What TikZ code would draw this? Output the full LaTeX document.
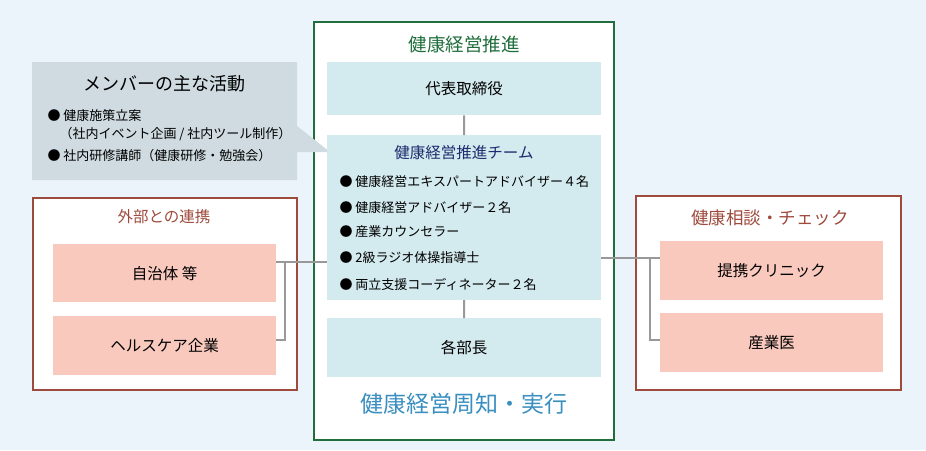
\documentclass[tikz,border=0pt]{standalone}
\usepackage{fontspec}
\setmainfont{Noto Sans CJK JP}
\begin{document}
\begin{tikzpicture}[x=1pt,y=-1pt,
  lbl/.style={font=\fontsize{15.5}{17}\selectfont},
  sbox/.style={fill=teamc,draw=none,minimum width=274pt,anchor=north west},
  pbox/.style={fill=pinkc,draw=none,minimum width=223pt,anchor=north west,font=\fontsize{15.5}{17}\selectfont},
  con/.style={draw=linec,line width=2pt},
  item/.style={anchor=west,font=\fontsize{13}{15}\selectfont}]
\definecolor{bgc}{HTML}{EAF4FA}
\definecolor{teamc}{HTML}{D3EAEE}
\definecolor{pinkc}{HTML}{F9C9BE}
\definecolor{greenc}{HTML}{1F6E3C}
\definecolor{brownc}{HTML}{9E4A3C}
\definecolor{linec}{HTML}{999999}
\definecolor{callc}{HTML}{CFDBE0}
\definecolor{navyc}{HTML}{1E2A6E}
\definecolor{bluec}{HTML}{3A8FC0}
\fill[bgc] (0,0) rectangle (926,450);
\useasboundingbox (0,0) rectangle (926,450);
% center
\draw[greenc,line width=1.5pt,fill=white] (314,22) rectangle (614,440);
% callout
\fill[callc] (32,62) -- (297,62) -- (297,126) -- (330,152) -- (297,152) -- (297,180) -- (32,180) -- cycle;
\node[font=\fontsize{18}{20}\selectfont] (ct) at (164,84) {メンバーの主な活動};
\node[item] (c1) at (44,116) {● 健康施策立案};
\node[item] (c2) at (56,134) {（社内イベント企画 / 社内ツール制作）};
\node[item] (c3) at (44,156) {● 社内研修講師（健康研修・勉強会）};
\node[text=greenc,font=\fontsize{18.5}{20}\selectfont] (ct2) at (464,44) {健康経営推進};
\node[sbox,minimum height=53pt,lbl] (ceo) at (327,62) {代表取締役};
\fill[teamc] (327,135) rectangle (601,300);
\node[text=navyc,lbl] (team) at (464,153) {健康経営推進チーム};
\node[item] (t1) at (336,182) {● 健康経営エキスパートアドバイザー４名};
\node[item] (t2) at (336,208) {● 健康経営アドバイザー２名};
\node[item] (t3) at (336,232) {● 産業カウンセラー};
\node[item] (t4) at (336,258) {● 2級ラジオ体操指導士};
\node[item] (t5) at (336,284) {● 両立支援コーディネーター２名};
\coordinate (teamtop) at (464,135);
\coordinate (teambot) at (464,300);
\coordinate (teamL) at (327,262);
\coordinate (teamR) at (601,258);
\node[sbox,minimum height=59pt,lbl] (bucho) at (327,318) {各部長};
\node[text=bluec,font=\fontsize{23}{25}\selectfont] (jk) at (464,404) {健康経営周知・実行};
\draw[con] (ceo.south) -- (teamtop);
\draw[con] (teambot) -- (bucho.north);
% left
\draw[brownc,line width=1.2pt,fill=white] (33,198) rectangle (297,390);
\node[text=brownc,lbl] (lt) at (164,217) {外部との連携};
\node[pbox,minimum height=58pt] (jichi) at (53,244) {自治体 等};
\node[pbox,minimum height=59pt] (hc) at (53,316) {ヘルスケア企業};
\draw[con] (jichi.east |- teamL) -- (teamL);
\draw[con] (285,262) -- (285,340) -- (hc.east |- 0,340);
% right
\draw[brownc,line width=1.2pt,fill=white] (636,196) rectangle (901,390);
\node[text=brownc,font=\fontsize{17.5}{19}\selectfont] (rt) at (770,218) {健康相談・チェック};
\node[pbox,minimum height=59pt] (cl) at (660,241) {提携クリニック};
\node[pbox,minimum height=59pt] (sg) at (660,313) {産業医};
\draw[con] (teamR) -- (cl.west |- teamR);
\draw[con] (650,258) -- (650,340) -- (sg.west |- 0,340);
\end{tikzpicture}
\end{document}
